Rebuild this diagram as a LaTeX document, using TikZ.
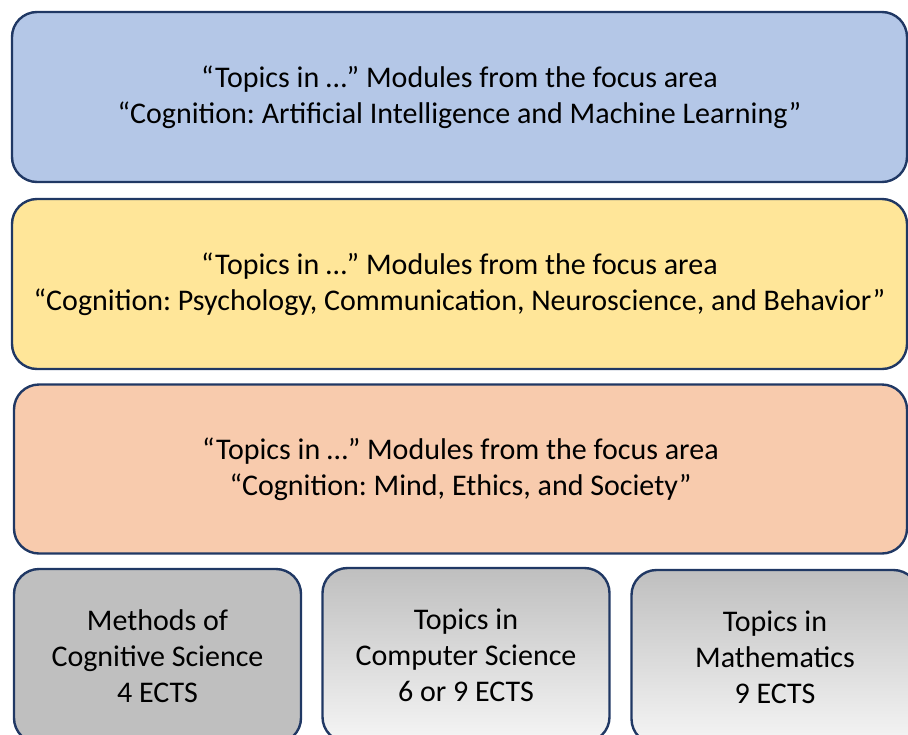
\documentclass[tikz,border=0pt]{standalone}
\usepackage{fontspec}
\setmainfont{Carlito}
\frenchspacing
\definecolor{boxline}{RGB}{32,56,100}
\definecolor{aiblue}{RGB}{180,199,231}
\definecolor{psyyellow}{RGB}{255,230,153}
\definecolor{mindorange}{RGB}{248,203,173}
\definecolor{methgray}{RGB}{191,191,191}
\definecolor{lightgray}{RGB}{245,245,245}
\begin{document}
\begin{tikzpicture}[x=1pt, y=-1pt,
    every node/.style={font=\fontsize{30}{36}\selectfont, align=center},
    area/.style={draw=boxline, line width=2.4pt, rounded corners=25pt,
                 minimum width=895pt, minimum height=170pt, inner sep=0pt},
    module/.style={draw=boxline, line width=2.4pt, rounded corners=25pt,
                   minimum width=287pt, minimum height=174pt, inner sep=0pt}]
    \useasboundingbox (0,0) rectangle (908,734);
    \clip (0,0) rectangle (908,734);

    % Schwerpunkte (focus areas)
    \node[area, fill=aiblue] (ai) at (459.5,97)
        {“Topics in …” Modules from the focus area\\“Cognition: Artificial Intelligence and Machine Learning”};
    \node[area, fill=psyyellow] (psy) at (459.5,284)
        {“Topics in …” Modules from the focus area\\“Cognition: Psychology, Communication, Neuroscience, and Behavior”};
    \node[area, fill=mindorange, minimum width=893pt, minimum height=169pt] (mind) at (460.5,469)
        {“Topics in …” Modules from the focus area\\“Cognition: Mind, Ethics, and Society”};

    % Pflichtmodule unten
    \node[module, fill=methgray] (meth) at (157.5,656)
        {Methods of\\Cognitive Science\\4 ECTS};
    \node[module, top color=methgray, bottom color=lightgray] (cs) at (466,655)
        {Topics in\\Computer Science\\6 or 9 ECTS};
    \node[module, top color=methgray, bottom color=lightgray] (math) at (775,657)
        {Topics in\\Mathematics\\9 ECTS};
\end{tikzpicture}
\end{document}
